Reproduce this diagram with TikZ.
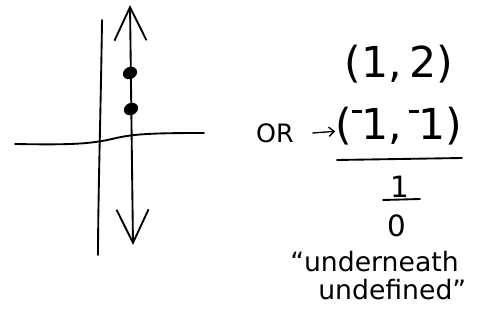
\documentclass[tikz,border=0pt]{standalone}
\usepackage{fontspec}
\setmainfont{DejaVu Sans}
\usetikzlibrary{positioning,arrows.meta,shapes.geometric}
\newcommand{\negmark}{\raisebox{0.62em}{\rule{0.22em}{0.06em}}}

\begin{document}
\begin{tikzpicture}[
  x=0.75pt, y=-0.75pt,
  pen/.style={line width=1.4pt, line cap=round, black},
  barb/.tip={Straight Barb[length=25pt, width=24pt, line width=1.4pt]},
  dot/.style={ellipse, fill=black, inner sep=0pt, minimum width=11pt, minimum height=9pt, rotate=25},
  big/.style={font=\fontsize{32}{36}\selectfont, inner sep=0pt},
  mid/.style={font=\fontsize{22}{26}\selectfont, inner sep=0pt},
  hand/.style={font=\fontsize{20}{24}\selectfont, inner sep=0pt, anchor=base west},
  small/.style={font=\fontsize{19}{22}\selectfont, inner sep=0pt}
]
\useasboundingbox (0,0) rectangle (489,324);
% axes
\coordinate (ytop) at (102,20);
\coordinate (ybot) at (98,255);
\coordinate (xleft) at (15,144);
\coordinate (xright) at (204,133);
\draw[pen] (ytop) .. controls (101,100) and (98,200) .. (ybot);
\draw[pen] (xleft) .. controls (70,145) and (90,144) .. (112,139) .. controls (132,134) and (150,133) .. (xright);
% vertical line x = 1
\coordinate (vtop) at (130,5);
\coordinate (vbot) at (133,245);
\draw[pen, barb-barb] (vtop) -- (vbot);
\node[dot] (p1) at (130,73) {};
\node[dot] (p2) at (131,109) {};
% points and slope
\node[big] (upper) at (399,64) {(1,\,2)};
\node[big] (lower) at (399,126) {(\negmark1,\,\negmark1)};
\node[small] (or) at (275,133) {OR};
\draw[line width=1pt, line cap=round, -{Straight Barb[length=4pt, width=7pt]}]
  ([xshift=14pt]or.east) -- ([yshift=-4pt]lower.west);
\coordinate (barL) at (337,160);
\coordinate (barR) at (462,158);
\draw[pen] (barL) -- (barR);
\node[mid] (num) at (400,187) {1};
\coordinate (fracL) at (383,200);
\coordinate (fracR) at (420,199);
\draw[pen] (fracL) -- (fracR);
\node[mid] (den) at (397,226) {0};
\node[hand] (note1) at (290,271) {“underneath};
\node[hand] (note2) at (318,299) {undefined”};
\end{tikzpicture}
\end{document}
